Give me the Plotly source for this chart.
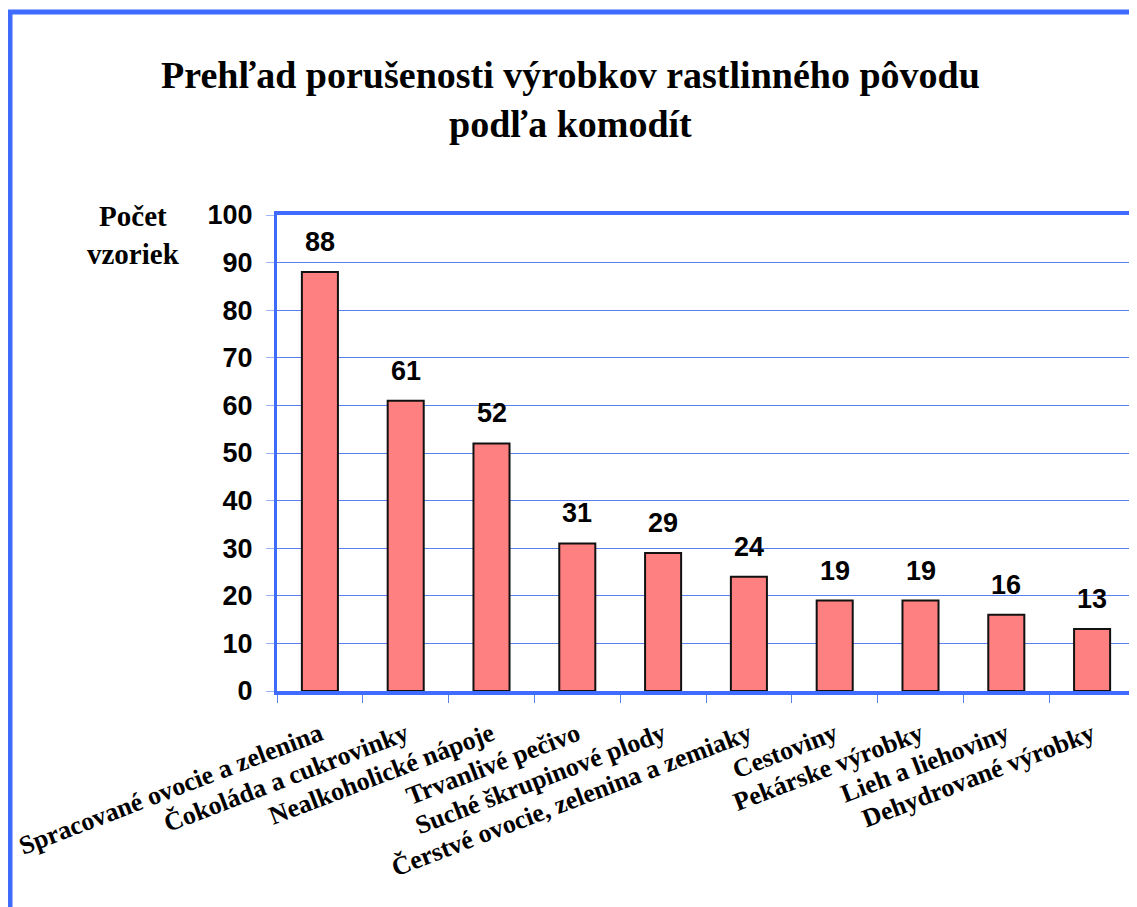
import plotly.graph_objects as go

categories = [
    "Spracované ovocie a zelenina",
    "Čokoláda a cukrovinky",
    "Nealkoholické nápoje",
    "Trvanlivé pečivo",
    "Suché škrupinové plody",
    "Čerstvé ovocie, zelenina a zemiaky",
    "Cestoviny",
    "Pekárske výrobky",
    "Lieh a liehoviny",
    "Dehydrované výrobky",
]
values = [88, 61, 52, 31, 29, 24, 19, 19, 16, 13]
y_ticks = [0, 10, 20, 30, 40, 50, 60, 70, 80, 90, 100]

OFF = 8  # page body margin
W, H = 1137 - OFF, 907 - OFF
ML = 277 - OFF
MT = 215 - OFF
MR = W - (1135 - OFF)
MB = H - (691 - OFF)
PW = W - ML - MR
PH = H - MT - MB

BLUE = "#3F6BFF"
GRID = "#5A80F0"

fig = go.Figure()
fig.add_trace(go.Bar(
    x=categories, y=values,
    marker=dict(color="#FF8080", line=dict(color="#111111", width=2)),
    width=0.42,
))

for c, v in zip(categories, values):
    fig.add_annotation(
        x=c, y=v, xref="x", yref="y", text="<b>%d</b>" % v,
        showarrow=False, xanchor="center", yanchor="bottom", yshift=13,
        font=dict(family="Liberation Sans, Arial", size=27, color="black"),
    )

def px2paper_x(px):
    return (px - OFF - ML) / PW

def px2paper_y(py):
    return (H - MB - (py - OFF)) / PH

# outer frame (only left/top visible)
fig.add_shape(type="rect", xref="paper", yref="paper",
              x0=px2paper_x(10), x1=px2paper_x(1250),
              y0=px2paper_y(1000), y1=px2paper_y(12),
              line=dict(color=BLUE, width=5), layer="above")

fig.add_annotation(
    text="<b>Prehľad porušenosti výrobkov rastlinného pôvodu</b><br><b>podľa komodít</b>",
    xref="paper", yref="paper", x=px2paper_x(570), y=px2paper_y(100),
    showarrow=False, xanchor="center", yanchor="middle",
    font=dict(family="Liberation Serif, Times New Roman", size=38, color="black"),
)
fig.add_annotation(
    text="<b>Počet</b><br><b>vzoriek</b>",
    xref="paper", yref="paper", x=px2paper_x(133), y=px2paper_y(235),
    showarrow=False, xanchor="center", yanchor="middle",
    font=dict(family="Liberation Serif, Times New Roman", size=29, color="black"),
)

fig.update_layout(
    width=W, height=H,
    margin=dict(l=ML, r=MR, t=MT, b=MB, autoexpand=False),
    paper_bgcolor="white", plot_bgcolor="white",
    showlegend=False,
)
fig.update_xaxes(
    type="category",
    tickangle=-21,
    tickfont=dict(family="Liberation Serif, Times New Roman", size=26, color="black"),
    ticks="outside", ticklen=8, tickcolor=GRID, tickwidth=1,
    tickson="boundaries",
    showline=True, linecolor=BLUE, linewidth=4, mirror=True,
    showgrid=False, automargin=False,
    ticklabelstandoff=14,
    tickvals=categories,
    ticktext=["<b>%s</b>" % c for c in categories],
)
fig.update_yaxes(
    range=[0, 100],
    tickvals=y_ticks,
    ticktext=["<b>%d</b>" % v for v in y_ticks],
    tickfont=dict(family="Liberation Sans, Arial", size=27, color="black"),
    ticks="outside", ticklen=8, tickcolor="#9DB5F5", tickwidth=1,
    showline=True, linecolor=BLUE, linewidth=3, mirror=True,
    showgrid=True, gridcolor=GRID, gridwidth=1,
    zeroline=False, automargin=False,
    ticklabelstandoff=8,
)

fig.write_html("out.html")
